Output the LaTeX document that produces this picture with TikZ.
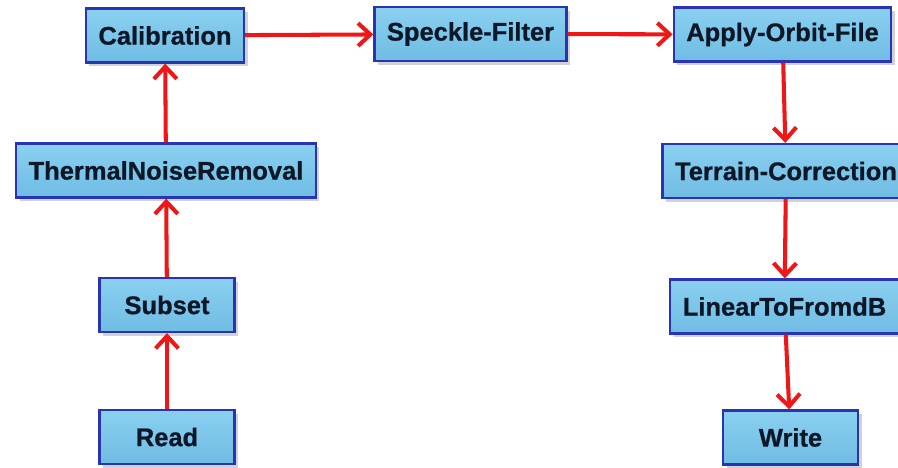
\documentclass[tikz,border=0pt]{standalone}
\usepackage{fontspec}
\setmainfont{Liberation Sans}[BoldFeatures = {FakeBold = 0.8}]
\usetikzlibrary{arrows.meta,shadows}
\definecolor{boxtop}{RGB}{138,208,240}
\definecolor{boxbot}{RGB}{112,188,228}
\definecolor{boxline}{RGB}{40,52,180}
\definecolor{boxtext}{RGB}{12,24,40}
\definecolor{flowred}{RGB}{238,22,22}

\begin{document}
\begin{tikzpicture} [scale = 1,
  opbox/.style = {draw = boxline, line width = 1.3pt, top color = boxtop, bottom color = boxbot,
    drop shadow = {shadow xshift = 2pt, shadow yshift = -2pt, fill = black!35},
    text = boxtext, font = \fontsize{14.5}{17}\selectfont\bfseries,
    minimum width = 2.7cm, minimum height = 1.08cm, inner xsep = 0.25cm},
  flow/.style = {flowred, line width = 2.3pt, -{Straight Barb[length = 7pt, width = 13pt, line width = 2.3pt]}}]
\useasboundingbox (0, 0) rectangle (17.96, 9.36);
\node[opbox] (calib) at (3.3, 8.65){Calibration};
\node[opbox] (speckle) at (9.41, 8.68){Speckle-Filter};
\node[opbox] (orbit) at (15.65, 8.67){Apply-Orbit-File};
\node[opbox] (noise) at (3.32, 5.95){ThermalNoiseRemoval};
\node[opbox] (terrain) at (15.72, 5.94){Terrain-Correction};
\node[opbox] (subset) at (3.34, 3.26){Subset};
\node[opbox] (read) at (3.34, 0.62){Read};
\node[opbox] (lintodb) at (15.69, 3.23){LinearToFromdB};
\node[opbox] (write) at (15.81, 0.61){Write};
\draw[flow] (read) -- (subset);
\draw[flow] (subset) -- (noise);
\draw[flow] (noise) -- (calib);
\draw[flow] (calib) -- (speckle);
\draw[flow] (speckle) -- (orbit);
\draw[flow] (orbit) -- (terrain);
\draw[flow] (terrain) -- (lintodb);
\draw[flow] (lintodb) -- (write);
\end{tikzpicture}
\end{document}
